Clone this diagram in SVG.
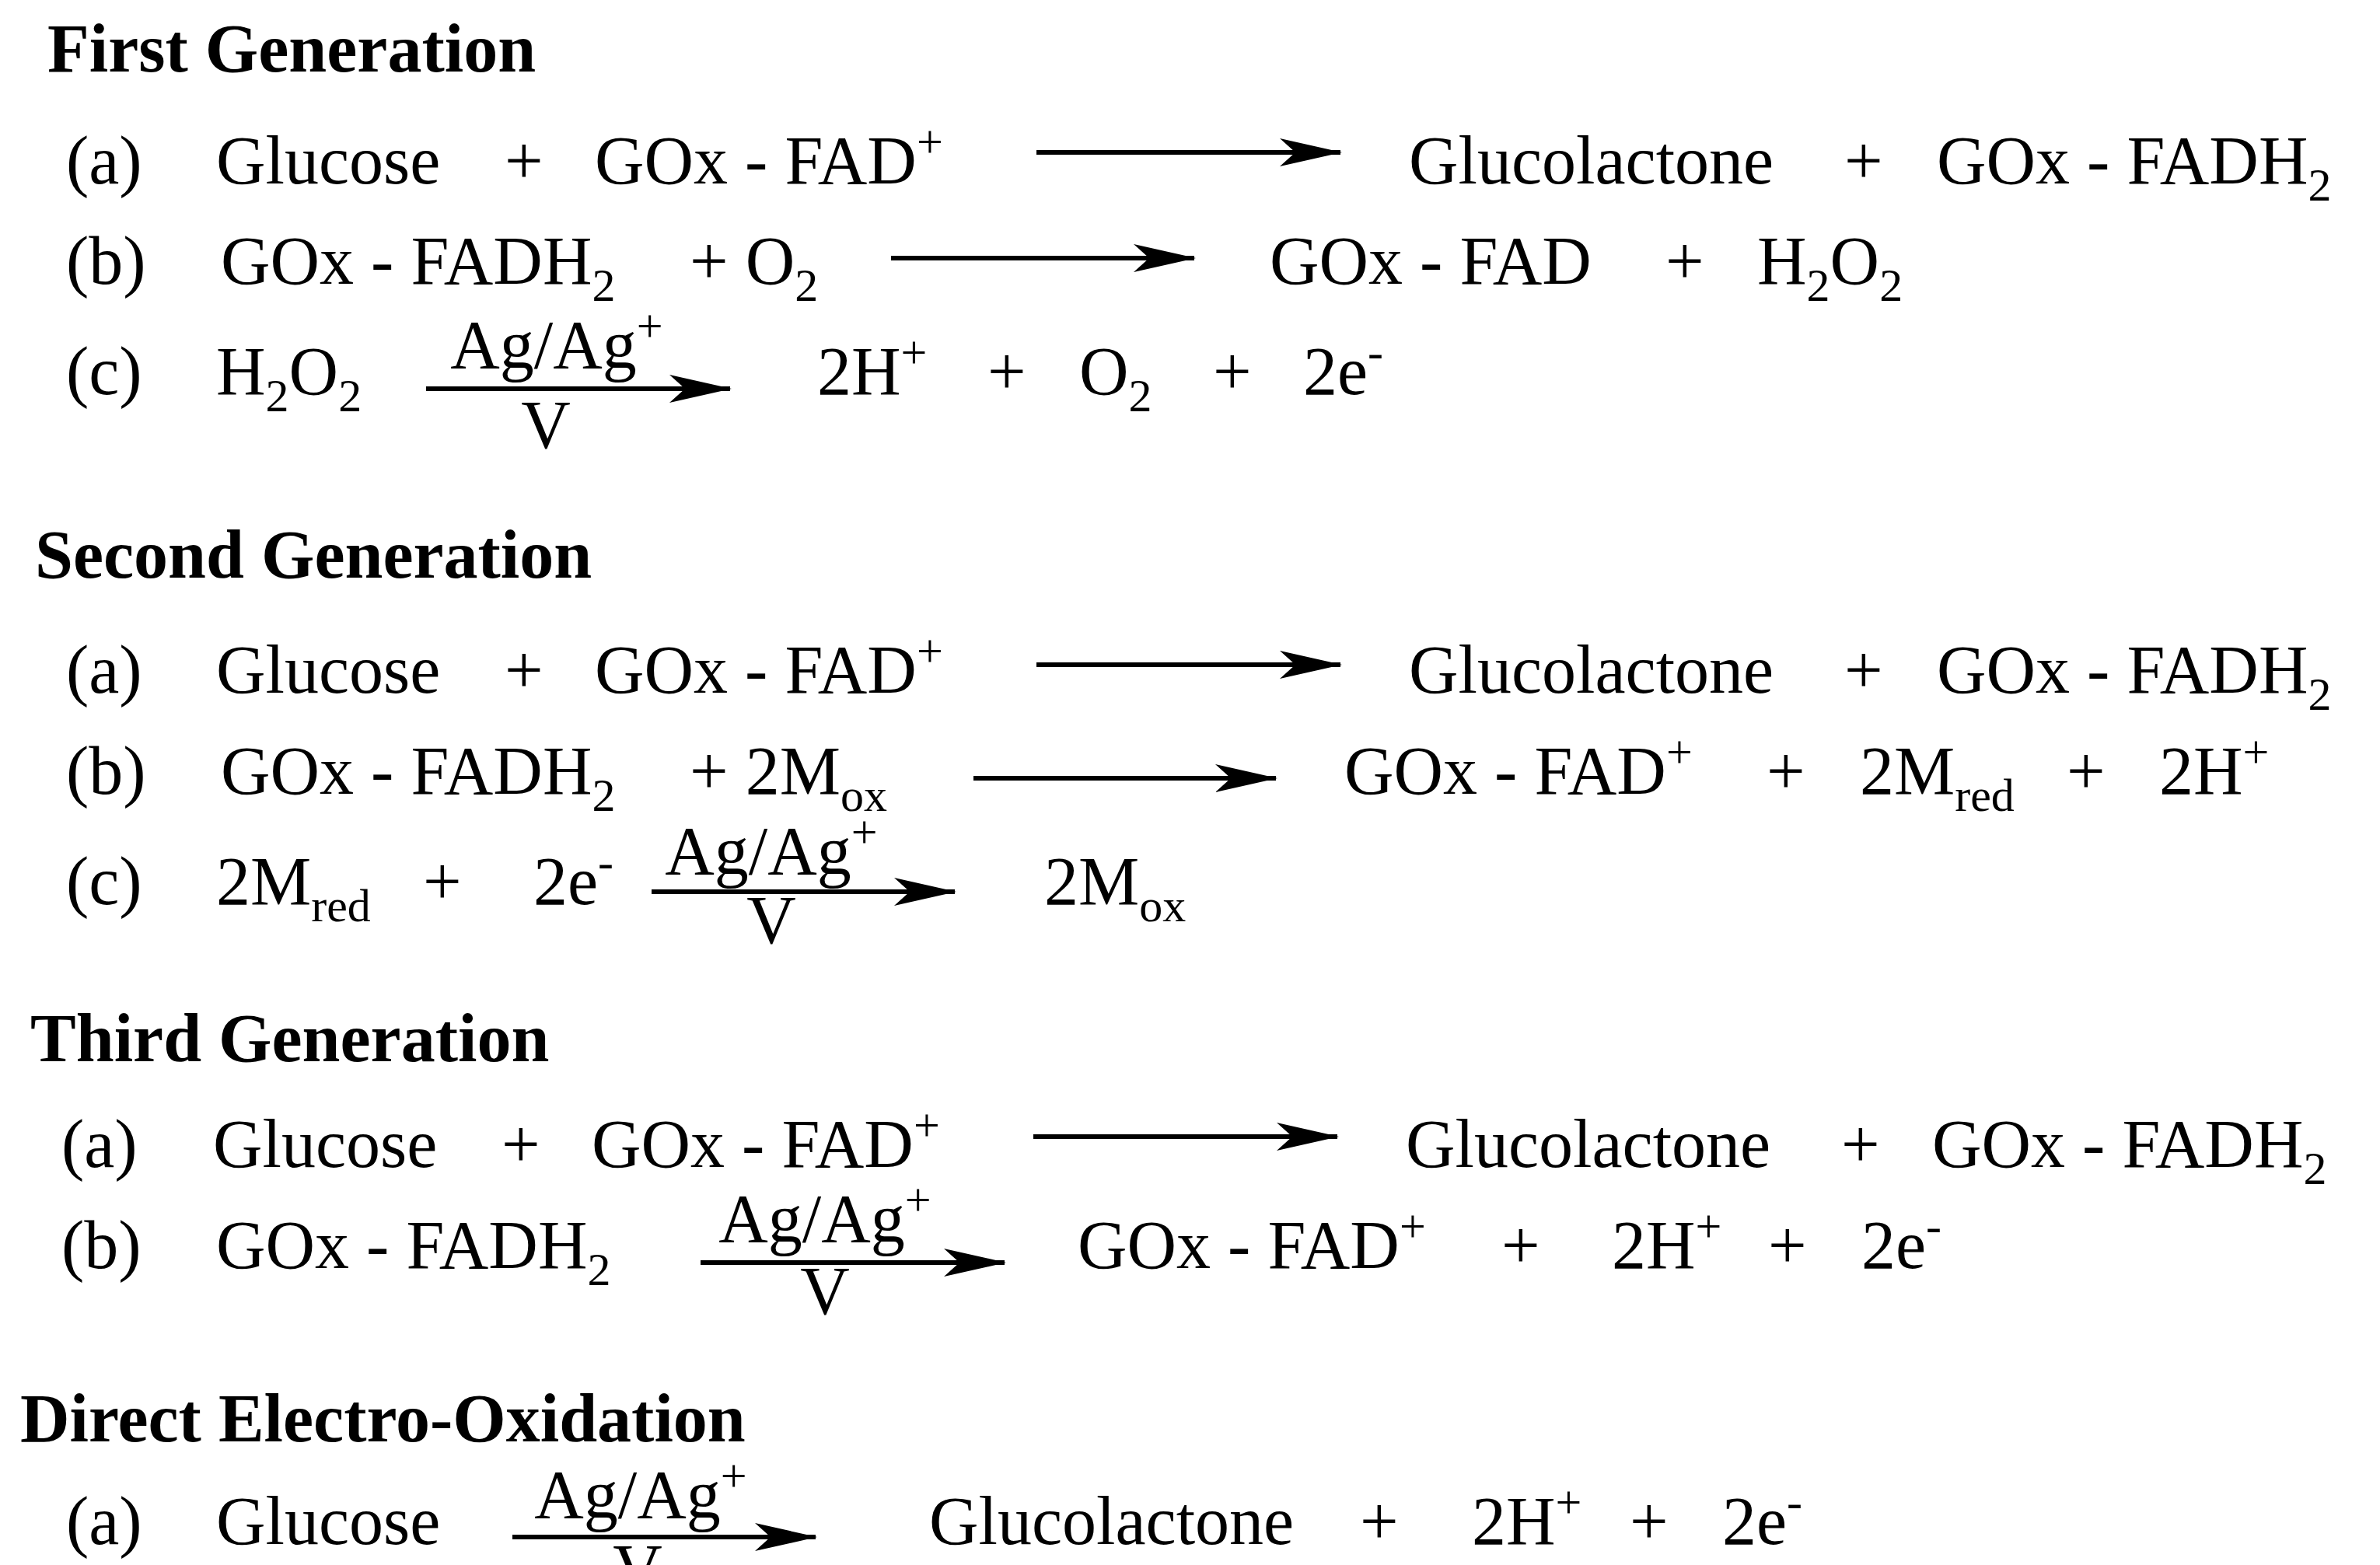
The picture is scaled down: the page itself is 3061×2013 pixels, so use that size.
<svg xmlns="http://www.w3.org/2000/svg" width="3061" height="2013" viewBox="0 0 3061 2013">
<style>
text{font-family:"Liberation Serif","Times New Roman",serif;font-size:88px;fill:#000}
.h{font-weight:bold}
.s{font-size:60px}
line{stroke:#000;stroke-width:6}
</style>
<defs>
<marker id="ah" viewBox="0 0 80 36" refX="78" refY="18" markerWidth="80" markerHeight="36" markerUnits="userSpaceOnUse" orient="auto"><path d="M0,0 L80,18 L0,36 L20,18 Z"/></marker></defs>
<rect width="3061" height="2013" fill="#fff"/>
<g transform="translate(-4,-10)">
<g id="connectors">
<line x1="1337" y1="206" x2="1728" y2="206" marker-end="url(#ah)"/>
<line x1="1150" y1="342" x2="1540" y2="342" marker-end="url(#ah)"/>
<line x1="552" y1="510" x2="943" y2="510" marker-end="url(#ah)"/>
<line x1="1337" y1="865" x2="1728" y2="865" marker-end="url(#ah)"/>
<line x1="1256" y1="1011" x2="1645" y2="1011" marker-end="url(#ah)"/>
<line x1="842" y1="1157" x2="1232" y2="1157" marker-end="url(#ah)"/>
<line x1="1333" y1="1472" x2="1724" y2="1472" marker-end="url(#ah)"/>
<line x1="905" y1="1634" x2="1296" y2="1634" marker-end="url(#ah)"/>
<line x1="663" y1="1987" x2="1053" y2="1987" marker-end="url(#ah)"/>
</g>
<g id="first">
<text class="h" x="65" y="102">First Generation</text>
<text x="89" y="246">(a)</text><text x="282" y="246">Glucose</text><text x="653" y="246">+</text>
<text x="769" y="246">GOx - FAD<tspan class="s" dy="-34">+</tspan></text>
<text x="1816" y="246">Glucolactone</text><text x="2376" y="246">+</text>
<text x="2495" y="246">GOx - FADH<tspan class="s" dy="22">2</tspan></text>
<text x="89" y="375">(b)</text>
<text x="288" y="375">GOx - FADH<tspan class="s" dy="22">2</tspan></text>
<text x="891" y="375">+ O<tspan class="s" dy="22">2</tspan></text>
<text x="1637" y="375">GOx - FAD</text><text x="2146" y="375">+</text>
<text x="2264" y="375">H<tspan class="s" dy="22">2</tspan><tspan dy="-22">O</tspan><tspan class="s" dy="22">2</tspan></text>
<text x="89" y="517">(c)</text>
<text x="282" y="517">H<tspan class="s" dy="22">2</tspan><tspan dy="-22">O</tspan><tspan class="s" dy="22">2</tspan></text>
<text x="720" y="483" text-anchor="middle">Ag/Ag<tspan class="s" dy="-34">+</tspan></text>
<text x="706" y="586" text-anchor="middle">V</text>
<text x="1055" y="517">2H<tspan class="s" dy="-34">+</tspan></text><text x="1274" y="517">+</text>
<text x="1392" y="517">O<tspan class="s" dy="22">2</tspan></text><text x="1564" y="517">+</text>
<text x="1680" y="517">2e<tspan class="s" dy="-34">-</tspan></text>
</g>
<g id="second">
<text class="h" x="49" y="753">Second Generation</text>
<text x="89" y="901">(a)</text><text x="282" y="901">Glucose</text><text x="653" y="901">+</text>
<text x="769" y="901">GOx - FAD<tspan class="s" dy="-34">+</tspan></text>
<text x="1816" y="901">Glucolactone</text><text x="2376" y="901">+</text>
<text x="2495" y="901">GOx - FADH<tspan class="s" dy="22">2</tspan></text>
<text x="89" y="1031">(b)</text>
<text x="288" y="1031">GOx - FADH<tspan class="s" dy="22">2</tspan></text>
<text x="891" y="1031">+ 2M<tspan class="s" dy="22">ox</tspan></text>
<text x="1733" y="1031">GOx - FAD<tspan class="s" dy="-34">+</tspan></text><text x="2276" y="1031">+</text>
<text x="2396" y="1031">2M<tspan class="s" dy="22">red</tspan></text><text x="2662" y="1031">+</text>
<text x="2781" y="1031">2H<tspan class="s" dy="-34">+</tspan></text>
<text x="89" y="1173">(c)</text>
<text x="282" y="1173">2M<tspan class="s" dy="22">red</tspan></text><text x="548" y="1173">+</text>
<text x="690" y="1173">2e<tspan class="s" dy="-34">-</tspan></text>
<text x="996" y="1134" text-anchor="middle">Ag/Ag<tspan class="s" dy="-34">+</tspan></text>
<text x="996" y="1223" text-anchor="middle">V</text>
<text x="1347" y="1173">2M<tspan class="s" dy="22">ox</tspan></text>
</g>
<g id="third">
<text class="h" x="43" y="1375">Third Generation</text>
<text x="83" y="1511">(a)</text><text x="278" y="1511">Glucose</text><text x="649" y="1511">+</text>
<text x="765" y="1511">GOx - FAD<tspan class="s" dy="-34">+</tspan></text>
<text x="1812" y="1511">Glucolactone</text><text x="2372" y="1511">+</text>
<text x="2489" y="1511">GOx - FADH<tspan class="s" dy="22">2</tspan></text>
<text x="83" y="1641">(b)</text>
<text x="282" y="1641">GOx - FADH<tspan class="s" dy="22">2</tspan></text>
<text x="1065" y="1607" text-anchor="middle">Ag/Ag<tspan class="s" dy="-34">+</tspan></text>
<text x="1065" y="1700" text-anchor="middle">V</text>
<text x="1390" y="1641">GOx - FAD<tspan class="s" dy="-34">+</tspan></text><text x="1935" y="1641">+</text>
<text x="2077" y="1641">2H<tspan class="s" dy="-34">+</tspan></text><text x="2278" y="1641">+</text>
<text x="2398" y="1641">2e<tspan class="s" dy="-34">-</tspan></text>
</g>
<g id="direct">
<text class="h" x="30" y="1864">Direct Electro-Oxidation</text>
<text x="89" y="1996">(a)</text><text x="282" y="1996">Glucose</text>
<text x="828" y="1962" text-anchor="middle">Ag/Ag<tspan class="s" dy="-34">+</tspan></text>
<text x="824" y="2057" text-anchor="middle">V</text>
<text x="1199" y="1996">Glucolactone</text><text x="1753" y="1996">+</text>
<text x="1897" y="1996">2H<tspan class="s" dy="-34">+</tspan></text><text x="2100" y="1996">+</text>
<text x="2219" y="1996">2e<tspan class="s" dy="-34">-</tspan></text>
</g>
</g>
</svg>
